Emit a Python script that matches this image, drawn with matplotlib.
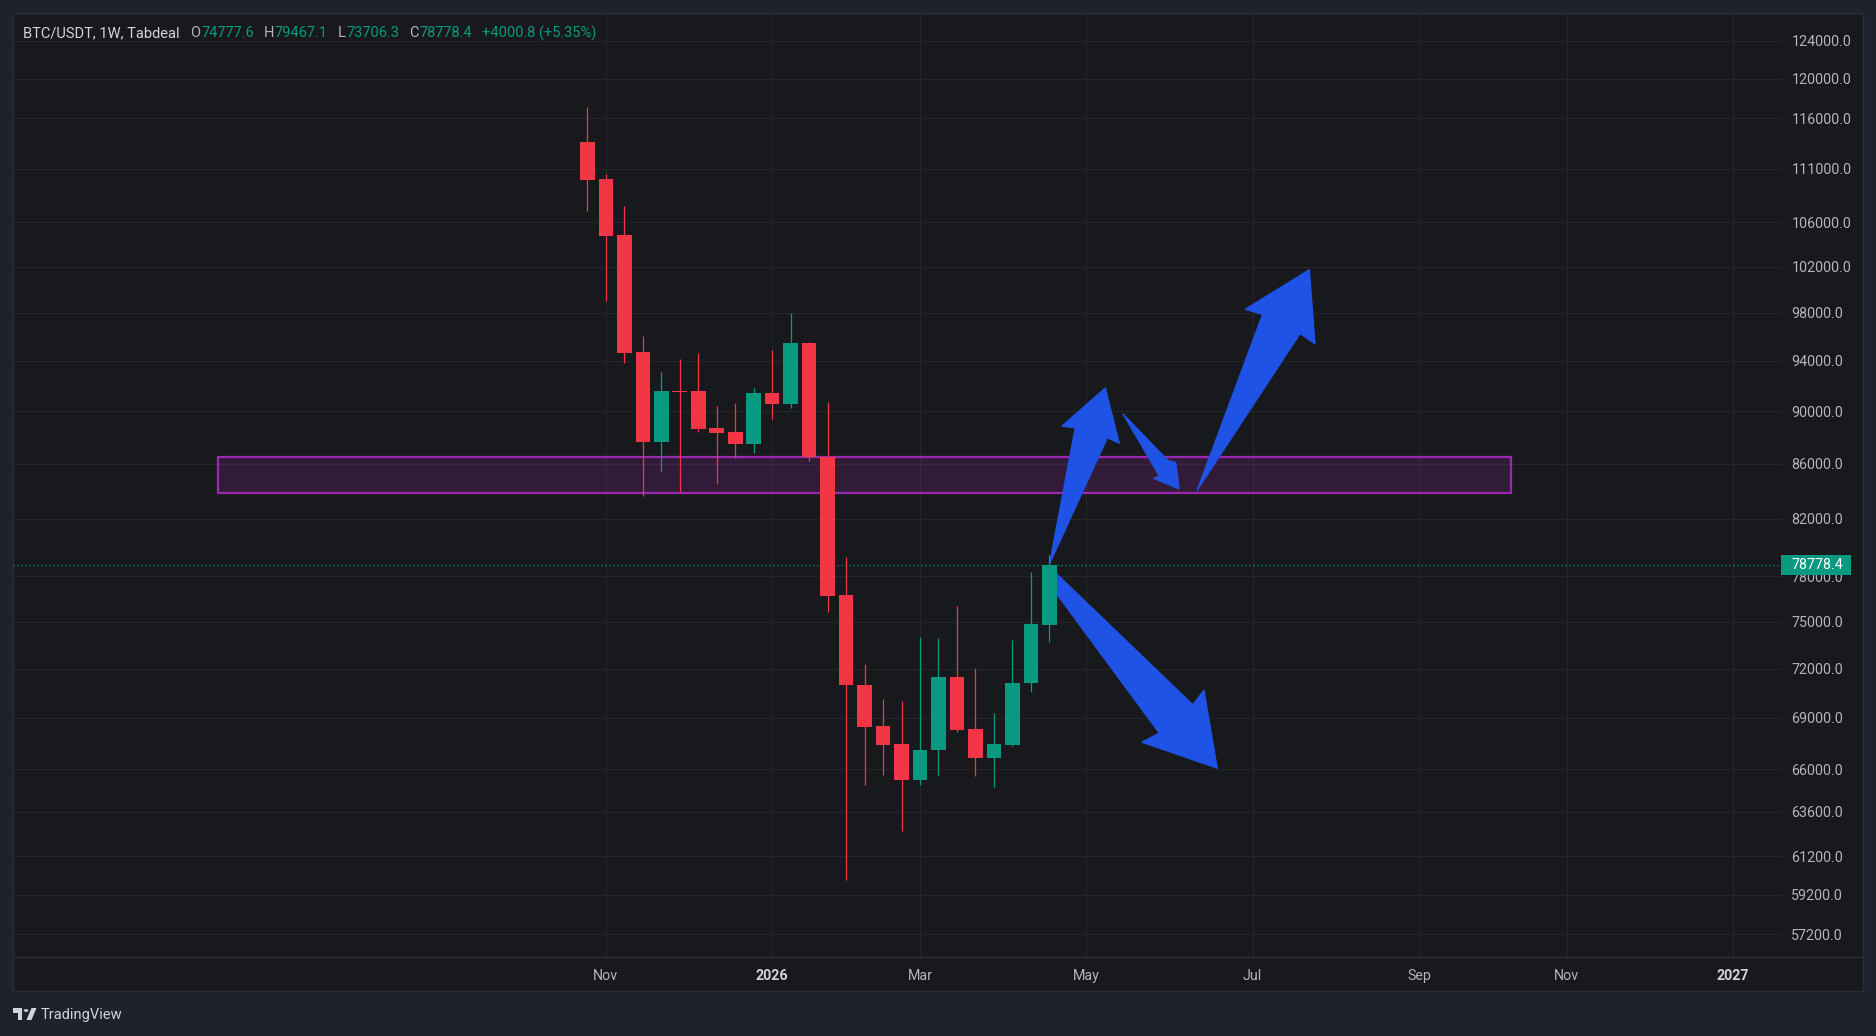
import matplotlib
matplotlib.use("Agg")
import matplotlib.pyplot as plt
import numpy as np
import pandas as pd
from matplotlib.patches import Rectangle, Polygon, Circle
from matplotlib.lines import Line2D
from matplotlib.ticker import FixedLocator, NullLocator, FuncFormatter

plt.rcParams['font.family'] = ['Roboto', 'DejaVu Sans']

# ---------------- data ----------------
start_week = "2025-10-27"
opens  = [113600, 110000, 104800, 94700, 87650, 91600, 91570, 88690, 88380, 87470,
          91410, 90550, 95470, 86500, 76740, 71015, 68490, 67440, 65400, 67090,
          71490, 68360, 66660, 67410, 71090, 74777.6]
highs  = [117100, 110500, 107480, 96040, 93100, 94150, 94640, 90390, 90630, 91810,
          94890, 97970, 95550, 90720, 79320, 72290, 70130, 70020, 74000, 73940,
          76030, 72040, 69290, 73820, 78290, 79467.1]
lows   = [107050, 99030, 93850, 83640, 85400, 83940, 88400, 84510, 86430, 86790,
          89380, 90240, 86180, 75650, 59980, 65110, 65680, 62570, 65110, 65630,
          68180, 65630, 65000, 67350, 70580, 73706.3]
closes = [109950, 104750, 94670, 87650, 91570, 91500, 88610, 88310, 87470, 91410,
          90550, 95470, 86490, 76690, 71015, 68470, 67410, 65400, 67110, 71490,
          68300, 66660, 67440, 71110, 74840, 78778.4]

last_price = 78778.4
change = 4000.8
change_pct = 5.35

price_ticks = [124000, 120000, 116000, 111000, 106000, 102000, 98000, 94000, 90000,
               86000, 82000, 78000, 75000, 72000, 69000, 66000, 63600, 61200, 59200, 57200]
time_tick_dates  = ["2025-11-03", "2026-01-05", "2026-03-02", "2026-05-04",
                    "2026-07-06", "2026-09-07", "2026-11-02", "2027-01-04"]
time_tick_labels = ["Nov", "2026", "Mar", "May", "Jul", "Sep", "Nov", "2027"]
year_labels = {"2026", "2027"}

zone_dates  = ["2025-06-09", "2026-10-12"]
zone_prices = [83860, 86510]

# hand-drawn arrows: (week offset from start_week, price)
arrow_up_small = [(25.0, 78800), (26.39, 88690), (25.67, 88830), (28.03, 91830),
                  (28.79, 87510), (28.14, 87940)]
arrow_pullback = [(28.97, 89800), (31.44, 86210), (31.84, 86080), (32.03, 84110),
                  (30.63, 84910), (30.95, 85060)]
arrow_up_big   = [(32.98, 83990), (36.53, 97850), (35.59, 98290), (39.07, 101730),
                   (39.38, 95380), (38.57, 96240)]
arrow_down     = [(25.04, 78600), (32.76, 69800), (33.37, 70680), (34.09, 66050),
                  (30.00, 67560), (30.94, 68100), (25.04, 77400)]
arrows = [arrow_up_small, arrow_pullback, arrow_up_big, arrow_down]

# ---------------- style ----------------
W, H, DPI = 1876, 1036, 100
OUTER = "#1e222d"
BG = "#18191c"
GRID = "#25262a"
BORDER = "#2a2e39"
TXT = "#b2b5be"
UP = "#089981"
DOWN = "#f23645"
ZONE = "#9c27b0"
ARROW = "#1f53e6"

def fx(px):
    return px / W

def fy(py):
    return 1 - py / H

t0 = pd.Timestamp(start_week)
def widx(d):
    return (pd.Timestamp(d) - t0).days / 7.0

fig = plt.figure(figsize=(W / DPI, H / DPI), dpi=DPI, facecolor=OUTER)

# pane background
fig.patches.append(Rectangle((fx(12.5), fy(991)), (1863 - 12.5) / W, (991 - 12.7) / H,
                             transform=fig.transFigure, fc=BG, ec=BORDER, lw=1.0, zorder=-5))
fig.add_artist(Line2D([fx(13), fx(1863)], [fy(957), fy(957)], color=BORDER, lw=1.0, zorder=-4))

ax = fig.add_axes([fx(13), fy(957), (1781 - 13) / W, (957 - 12.7) / H])
ax.set_facecolor("none")
for s in ax.spines.values():
    s.set_visible(False)
ax.set_yscale("log")
ax.set_ylim(56094, 127076)
ax.set_xlim(-31.08, 64.59)

ax.yaxis.set_major_locator(FixedLocator(price_ticks))
ax.yaxis.set_minor_locator(NullLocator())
ax.yaxis.set_major_formatter(FuncFormatter(lambda v, p: f"{v:.1f}"))
ax.yaxis.tick_right()
ax.tick_params(axis="y", length=0, pad=7.5, labelcolor=TXT, labelsize=10.3)

xt = [widx(d) for d in time_tick_dates]
ax.set_xticks(xt)
ax.set_xticklabels(time_tick_labels)
ax.xaxis.set_minor_locator(NullLocator())
ax.tick_params(axis="x", length=0, pad=8.5, labelcolor=TXT, labelsize=10.3)
for lab in ax.get_xticklabels():
    if lab.get_text() in year_labels:
        lab.set_fontweight("bold")
        lab.set_color("#d1d4dc")

ax.grid(True, which="major", color=GRID, lw=0.8)
ax.set_axisbelow(True)

# support / resistance zone
z0, z1 = widx(zone_dates[0]), widx(zone_dates[1])
ax.add_patch(Rectangle((z0, zone_prices[0]), z1 - z0, zone_prices[1] - zone_prices[0],
                       fc=ZONE, alpha=0.2, ec="none", zorder=1.2))
ax.add_patch(Rectangle((z0, zone_prices[0]), z1 - z0, zone_prices[1] - zone_prices[0],
                       fc="none", ec=ZONE, lw=1.6, zorder=1.3))

# arrows
for arr in arrows:
    ax.add_patch(Polygon(arr, closed=True, fc=ARROW, ec=ARROW, lw=0.8,
                         joinstyle="round", zorder=2))

# last price line
ax.axhline(last_price, color=UP, lw=0.9, ls=(0, (1, 2.2)), zorder=2.5)

# candles
x = np.arange(len(opens))
o = np.array(opens); c = np.array(closes); h = np.array(highs); l = np.array(lows)
cols = [UP if cc >= oo else DOWN for oo, cc in zip(o, c)]
ax.vlines(x, l, h, colors=cols, lw=0.9, zorder=3)
ax.bar(x, np.abs(c - o), bottom=np.minimum(o, c), width=0.79, color=cols, lw=0, zorder=3.1)

# last price label box
fig.canvas.draw()
ypix = ax.transData.transform((0, last_price))[1]
ytop = H - ypix
fig.patches.append(Rectangle((fx(1781), fy(ytop + 10)), 70 / W, 20 / H,
                             transform=fig.transFigure, fc=UP, ec="none", zorder=5))
fig.text(fx(1791), fy(ytop), f"{last_price:.1f}", color="white", fontsize=10.3,
         ha="left", va="center", zorder=6)

# header
HFS = 10.5
hdr = fig.text(fx(23), fy(33), "BTC/USDT, 1W, Tabdeal", color="#d1d4dc", fontsize=HFS,
               ha="left", va="center", zorder=6)
parts = [("O", TXT, 8), (f"{opens[-1]:.1f}", UP, 0.5), ("H", TXT, 7), (f"{highs[-1]:.1f}", UP, 0.5),
         ("L", TXT, 7), (f"{lows[-1]:.1f}", UP, 0.5), ("C", TXT, 7), (f"{closes[-1]:.1f}", UP, 0.5),
         (f"+{change:.1f} (+{change_pct:.2f}%)", UP, 7.5)]
prev = hdr
for txt, col, gap in parts:
    prev = ax.annotate(txt, xy=(1, 0.5), xycoords=prev, xytext=(gap, 0),
                       textcoords="offset points", ha="left", va="center",
                       color=col, fontsize=HFS, annotation_clip=False, zorder=6)

# TradingView logo
fig.patches.append(Rectangle((fx(12.6), fy(1012.5)), 9.5 / W, 4.5 / H, transform=fig.transFigure,
                             fc="#d1d4dc", ec="none"))
fig.patches.append(Rectangle((fx(17.6), fy(1020)), 4.5 / W, 12 / H, transform=fig.transFigure,
                             fc="#d1d4dc", ec="none"))
fig.patches.append(Circle((fx(26), fy(1010.5)), 2.4 / W, transform=fig.transFigure,
                          fc="#d1d4dc", ec="none"))
fig.patches.append(Polygon([(fx(26.5), fy(1020)), (fx(31.5), fy(1020)), (fx(36.5), fy(1008)),
                            (fx(31.5), fy(1008))], closed=True, transform=fig.transFigure,
                           fc="#d1d4dc", ec="none"))
fig.text(fx(41), fy(1014.5), "TradingView", color="#d1d4dc", fontsize=10.5,
         ha="left", va="center")

fig.savefig("out.png", dpi=DPI, facecolor=OUTER)
